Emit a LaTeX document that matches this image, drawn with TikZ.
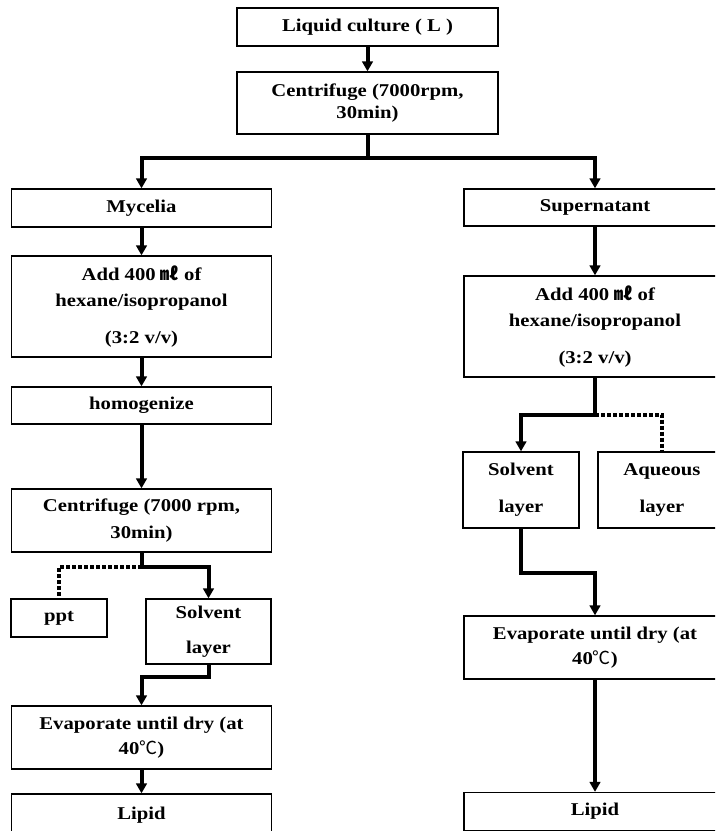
\documentclass[tikz,border=0pt]{standalone}
\usepackage{fontspec}
\setmainfont[FakeStretch=1.15]{Liberation Serif}
\newfontfamily\cjk{Noto Sans CJK KR}
\usetikzlibrary{arrows.meta,positioning}
\newcommand\mL{{\cjk ㎖}}
\newcommand\degC{{\cjk\mdseries ℃}}
\newcommand\stagefont{\fontsize{13.5}{18.75}\selectfont\bfseries}
\tikzset{
  stage/.style={draw, line width=1pt, align=center, inner sep=0pt, font=\stagefont},
  wide/.style={stage, minimum width=195pt},
  flow/.style={line width=3pt, -{Triangle[length=7.5pt,width=8pt]}},
  waste/.style={line width=3pt, dash pattern=on 3pt off 1.5pt},
}

\begin{document}
\begin{tikzpicture}[x=0.75pt,y=-0.75pt]
  \useasboundingbox (0,0) rectangle (715,831);
  \clip (0,0) rectangle (715,831);
  % top
  \node[wide, minimum width=195.75pt, minimum height=28.5pt] (culture) at (367.5,27) {Liquid culture ( L )};
  \node[wide, minimum width=195.75pt, minimum height=46.5pt] (spin) at (367.5,103) {Centrifuge (7000rpm,\\[-2.25pt]30min)};
  % mycelia side
  \node[wide, minimum height=28.5pt] (mycelia) at (141.5,208) {Mycelia};
  \node[wide, minimum height=75.75pt] (addL) at (141.5,306.5) {Add 400 \mL\ of\\[0.75pt]hexane/isopropanol\\[9pt](3:2 v/v)};
  \node[wide, minimum height=27.75pt] (homog) at (141.5,405.5) {homogenize};
  \node[wide, minimum height=47.25pt] (spinL) at (141.5,520.5) {Centrifuge (7000 rpm,\\[1.5pt]30min)};
  \node[stage, minimum width=72pt, minimum height=28.5pt] (ppt) at (59,618) {ppt};
  \node[stage, minimum width=93.75pt, minimum height=48.75pt] (solL) at (208.5,631.5) {Solvent\\[7.5pt]layer};
  \node[wide, minimum height=47.25pt] (dryL) at (141.5,737.5) {Evaporate until dry (at\\40\degC)};
  \node[wide, minimum height=31.5pt] (lipidL) at (141.5,815) {Lipid};
  % supernatant side
  \node[wide, minimum width=196.5pt, minimum height=27.75pt] (super) at (595,207.5) {Supernatant};
  \node[wide, minimum width=196.5pt, minimum height=75.75pt] (addR) at (595,326.5) {Add 400 \mL\ of\\[0.75pt]hexane/isopropanol\\[9pt](3:2 v/v)};
  \node[stage, minimum width=87pt, minimum height=57pt] (solR) at (521,490) {Solvent\\[9pt]layer};
  \node[stage, minimum width=96pt, minimum height=57pt] (aqueous) at (662,490) {Aqueous\\[9pt]layer};
  \node[wide, minimum width=196.5pt, minimum height=47.25pt] (dryR) at (595,647.5) {Evaporate until dry (at\\40\degC)};
  \node[wide, minimum width=196.5pt, minimum height=28.5pt] (lipidR) at (595,811.5) {Lipid};

  \draw[flow] (culture) -- (spin);
  \draw[flow] (spin.south) -- ++(0,23.5) coordinate (fork) -| (mycelia);
  \draw[flow] (fork) -| (super);

  \draw[flow] (mycelia) -- (addL);
  \draw[flow] (addL) -- (homog);
  \draw[flow] (homog) -- (spinL);
  \draw[flow] (spinL.south) -- ++(0,14) coordinate (forkL) -| (solL);
  \draw[waste] (forkL) -| (ppt);
  \draw[flow] (solL.south) -- ++(0,12) -| (dryL);
  \draw[flow] (dryL) -- (lipidL);

  \draw[flow] (super) -- (addR);
  \draw[flow] (addR.south) -- ++(0,37) coordinate (forkR) -| (solR);
  \draw[waste] (forkR) -| (aqueous);
  \draw[flow] (solR.south) -- ++(0,44) -| (dryR);
  \draw[flow] (dryR) -- (lipidR);
\end{tikzpicture}
\end{document}
